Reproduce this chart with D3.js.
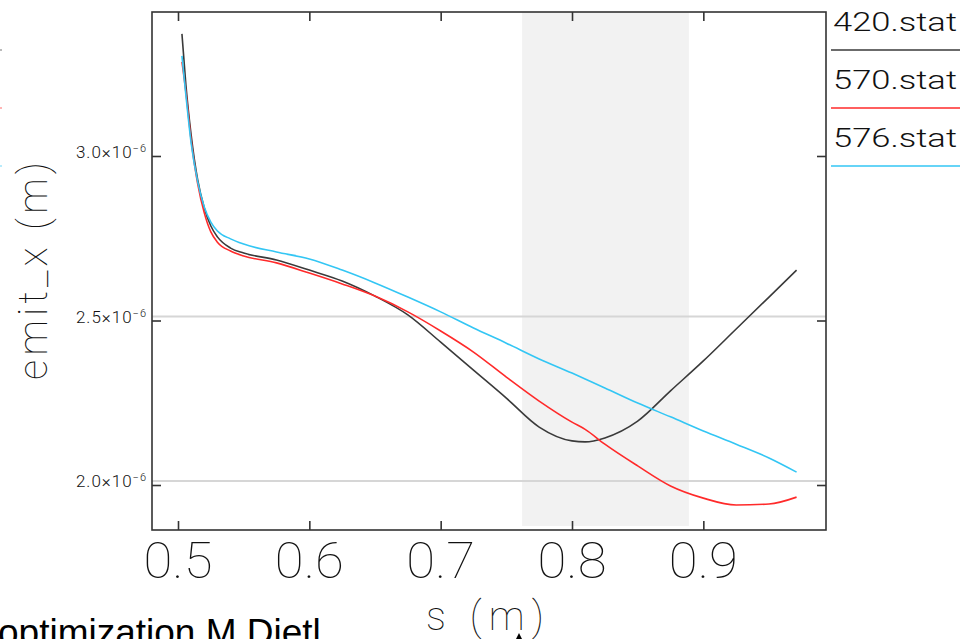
<!DOCTYPE html>
<html>
<head>
<meta charset="utf-8">
<script src="https://cdn.jsdelivr.net/npm/d3@7/dist/d3.min.js"></script>
<style>
  html, body { margin: 0; padding: 0; background: #fff; overflow: hidden; }
  svg { display: block; }
  .thin { font-family: Roboto, Lato, "Open Sans", sans-serif; font-weight: 100; fill: #111; }
</style>
</head>
<body>
<svg id="chart" width="968" height="639"></svg>
<script>
// emit_x along s for three stat files (values in metres)
const sValues = [0.503, 0.506, 0.510, 0.515, 0.520, 0.525, 0.530, 0.540, 0.550, 0.575,
                 0.600, 0.625, 0.650, 0.675, 0.700, 0.725, 0.750, 0.775, 0.800, 0.810,
                 0.825, 0.850, 0.875, 0.900, 0.925, 0.950, 0.971];
const emit420 = [3.359, 3.204, 3.052, 2.915, 2.830, 2.775, 2.742, 2.708, 2.693, 2.672,
                 2.641, 2.608, 2.562, 2.505, 2.422, 2.337, 2.252, 2.164, 2.122, 2.119,
                 2.131, 2.182, 2.274, 2.365, 2.462, 2.559, 2.641].map(v => v * 1e-6);
const emit570 = [3.274, 3.182, 3.036, 2.903, 2.815, 2.757, 2.726, 2.699, 2.684, 2.663,
                 2.632, 2.599, 2.562, 2.514, 2.456, 2.392, 2.316, 2.243, 2.179, 2.157,
                 2.112, 2.046, 1.985, 1.948, 1.927, 1.930, 1.951].map(v => v * 1e-6);
const emit576 = [3.292, 3.173, 3.027, 2.909, 2.833, 2.787, 2.760, 2.736, 2.720, 2.696,
                 2.675, 2.641, 2.602, 2.559, 2.514, 2.465, 2.419, 2.371, 2.328, 2.310,
                 2.283, 2.237, 2.195, 2.152, 2.112, 2.070, 2.027].map(v => v * 1e-6);

const seriesNames = ["420.stat", "570.stat", "576.stat"];
const seriesColors = ["#3a3a3a", "#ff2a2a", "#33c6f4"];
const seriesData = [emit420, emit570, emit576];

const xTicks = [0.5, 0.6, 0.7, 0.8, 0.9];
const yTicks = [2.0e-6, 2.5e-6, 3.0e-6];
const yGrid = [2.0e-6, 2.5e-6];
const bandRange = [0.762, 0.889];

const xDomain = [0.4802, 0.9934];
const yDomain = [1.8511e-6, 3.4255e-6];

const frame = { left: 152, top: 12, right: 826, bottom: 530 };

const svg = d3.select("#chart");
const x = d3.scaleLinear().domain(xDomain).range([frame.left, frame.right]);
const y = d3.scaleLinear().domain(yDomain).range([frame.bottom, frame.top]);

// shaded region of interest
svg.append("rect")
  .attr("x", x(bandRange[0])).attr("y", frame.top)
  .attr("width", x(bandRange[1]) - x(bandRange[0]))
  .attr("height", frame.bottom - 4 - frame.top)
  .attr("fill", "#f2f2f2");

// horizontal grid lines
svg.append("g").selectAll("line").data(yGrid).join("line")
  .attr("x1", frame.left).attr("x2", frame.right)
  .attr("y1", d => y(d)).attr("y2", d => y(d))
  .attr("stroke", "#d6d6d6").attr("stroke-width", 2);

// curves
const line = d3.line()
  .x((d, i) => x(sValues[i]))
  .y(d => y(d))
  .curve(d3.curveMonotoneX);

svg.append("g").selectAll("path").data(seriesData).join("path")
  .attr("d", d => line(d))
  .attr("fill", "none")
  .attr("stroke", (d, i) => seriesColors[i])
  .attr("stroke-width", 1.6);

// frame
svg.append("rect")
  .attr("x", frame.left).attr("y", frame.top)
  .attr("width", frame.right - frame.left).attr("height", frame.bottom - frame.top)
  .attr("fill", "none").attr("stroke", "#333").attr("stroke-width", 1.6);

// inward ticks on all four sides
function styleTicks(g) {
  g.select(".domain").remove();
  g.selectAll(".tick line").attr("stroke", "#333").attr("stroke-width", 1.6);
}
svg.append("g").attr("transform", `translate(0,${frame.bottom})`)
  .call(d3.axisBottom(x).tickValues(xTicks).tickSize(-9).tickFormat(""))
  .call(styleTicks);
svg.append("g").attr("transform", `translate(0,${frame.top})`)
  .call(d3.axisTop(x).tickValues(xTicks).tickSize(-9).tickFormat(""))
  .call(styleTicks);
svg.append("g").attr("transform", `translate(${frame.left},4)`)
  .call(d3.axisLeft(y).tickValues(yTicks).tickSize(-9).tickFormat(""))
  .call(styleTicks);
svg.append("g").attr("transform", `translate(${frame.right},4)`)
  .call(d3.axisRight(y).tickValues(yTicks).tickSize(-9).tickFormat(""))
  .call(styleTicks);

// x tick labels
svg.append("g").selectAll("text").data(xTicks).join("text")
  .attr("class", "thin")
  .attr("x", d => x(d)).attr("y", 578)
  .attr("text-anchor", "middle")
  .attr("font-size", 50)
  .attr("textLength", 69).attr("lengthAdjust", "spacingAndGlyphs")
  .text(d3.format(".1f"));

// y tick labels, e.g. 3.0×10⁻⁶
const yLab = svg.append("g").selectAll("text").data(yTicks).join("text")
  .attr("class", "thin")
  .style("font-weight", 300)
  .style("letter-spacing", "1px")
  .attr("x", 147).attr("y", d => y(d) + 6)
  .attr("text-anchor", "end")
  .attr("font-size", 17);
yLab.append("tspan").text(d => (d * 1e6).toFixed(1) + "×10");
yLab.append("tspan").attr("dy", -6).attr("font-size", 11).text("−6");

// axis titles
svg.append("text").attr("class", "thin")
  .attr("x", (frame.left + frame.right) / 2 - 4).attr("y", 630)
  .attr("text-anchor", "middle").attr("font-size", 40)
  .attr("textLength", 118).attr("lengthAdjust", "spacing")
  .text("s (m)");
svg.append("text").attr("class", "thin")
  .attr("transform", `translate(47,${(frame.top + frame.bottom) / 2}) rotate(-90)`)
  .attr("text-anchor", "middle").attr("font-size", 40)
  .attr("textLength", 218).attr("lengthAdjust", "spacing")
  .text("emit_x (m)");

// legend: name above a coloured sample line
const legendY = [50, 108, 166];
const lg = svg.append("g").selectAll("g").data(seriesNames).join("g");
lg.append("text").attr("class", "thin")
  .style("font-weight", 300)
  .attr("x", 833).attr("y", (d, i) => legendY[i] - 19)
  .attr("font-size", 25)
  .attr("textLength", 124).attr("lengthAdjust", "spacingAndGlyphs")
  .text(d => d);
lg.append("line")
  .attr("x1", 831).attr("x2", 960)
  .attr("y1", (d, i) => legendY[i]).attr("y2", (d, i) => legendY[i])
  .attr("stroke", (d, i) => seriesColors[i]).attr("stroke-width", 1.6);

// stubs of a neighbouring legend at the left edge
svg.append("g").selectAll("line").data(seriesColors).join("line")
  .attr("x1", 0).attr("x2", 2)
  .attr("y1", (d, i) => legendY[i]).attr("y2", (d, i) => legendY[i])
  .attr("stroke", d => d).attr("stroke-opacity", 0.35).attr("stroke-width", 2);

// caption and pointer
svg.append("text")
  .attr("x", -2).attr("y", 645)
  .attr("font-family", "'Liberation Sans', Arial, sans-serif")
  .attr("font-size", 37).attr("fill", "#000")
  .text("optimization M Dietl");
svg.append("path")
  .attr("d", "M519,633 L515,641 L523,641 Z")
  .attr("fill", "#000");
</script>
</body>
</html>
